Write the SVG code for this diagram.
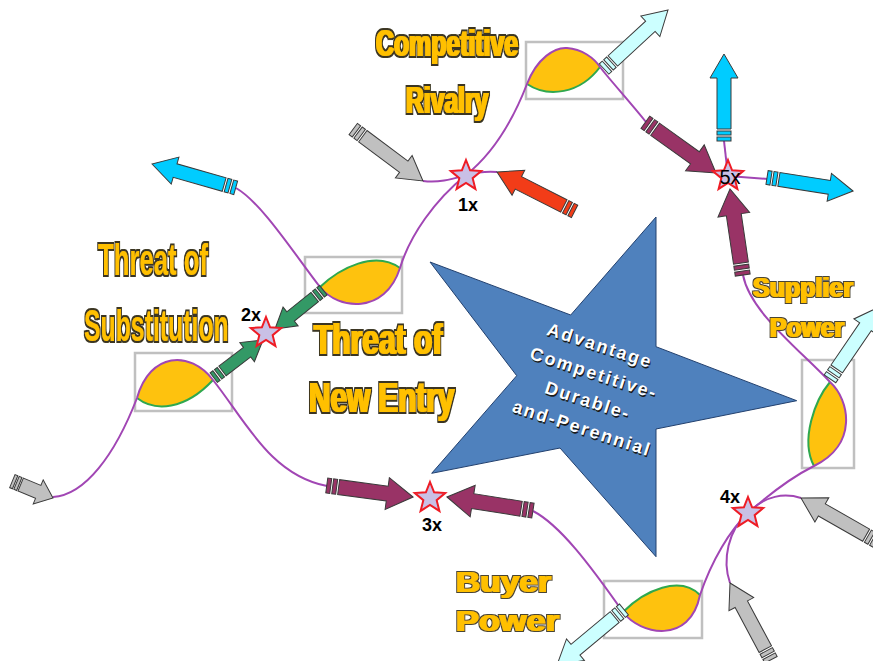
<svg xmlns="http://www.w3.org/2000/svg" width="873" height="661" viewBox="0 0 873 661">
<style>
.wire{fill:none;stroke:#a146b4;stroke-width:2}
.gedge{fill:none;stroke:#2fa84f;stroke-width:2}
.lens{fill:#fec20e;stroke:none}
.box{fill:none;stroke:#c0c0c0;stroke-width:2.5}
.arr{stroke:#3a3a3a;stroke-width:1}
.grey{fill:#c0c0c0}
.red{fill:#f23c18}
.maroon{fill:#993366}
.cyan{fill:#00ccff}
.lcyan{fill:#ccffff}
.green{fill:#339966}
.jstar{fill:#c9c0e6;stroke:#ee1c25;stroke-width:2}
.jl{font-family:"Liberation Sans",Arial,sans-serif;font-weight:bold;font-size:18px;fill:#000;text-anchor:middle}
.gold{font-family:"Liberation Sans",Arial,sans-serif;font-weight:bold;fill:#ffc000;filter:url(#heavyN)}
.goldw{font-family:"Liberation Sans",Arial,sans-serif;font-weight:bold;fill:#ffc000;filter:url(#heavyW)}
.core{fill:#4f81bd;stroke:#22406e;stroke-width:1}
.ctext{font-family:"Liberation Sans",Arial,sans-serif;font-weight:bold;font-size:18px;letter-spacing:2px;text-anchor:middle}
</style>
<defs>
<filter id="heavyN" x="-10%" y="-20%" width="120%" height="140%">
<feMorphology in="SourceAlpha" operator="dilate" radius="2.5 1.5" result="outer"/>
<feFlood flood-color="#3a3520"/><feComposite in2="outer" operator="in" result="ring"/>
<feMorphology in="SourceAlpha" operator="dilate" radius="0.8 0.3" result="inner"/>
<feFlood flood-color="#ffc000"/><feComposite in2="inner" operator="in" result="gold"/>
<feMerge><feMergeNode in="ring"/><feMergeNode in="gold"/></feMerge>
</filter>
<filter id="heavyW" x="-10%" y="-20%" width="120%" height="140%">
<feMorphology in="SourceAlpha" operator="dilate" radius="1.5 1.3" result="outer"/>
<feFlood flood-color="#4a4430"/><feComposite in2="outer" operator="in" result="ring"/>
<feMorphology in="SourceAlpha" operator="dilate" radius="0.5 0.3" result="inner"/>
<feFlood flood-color="#ffc000"/><feComposite in2="inner" operator="in" result="gold"/>
<feMerge><feMergeNode in="ring"/><feMergeNode in="gold"/></feMerge>
</filter>
<g id="aA"><path d="M0,0 L-24,-14 L-24,-7 L-75,-7 L-75,7 L-24,7 L-24,14 Z"/><rect x="-81" y="-7" width="4" height="14"/><rect x="-87" y="-7" width="4" height="14"/></g>
<g id="aM"><path d="M0,0 L-26,-16 L-26,-7.5 L-75,-7.5 L-75,7.5 L-26,7.5 L-26,16 Z"/><rect x="-81" y="-7.5" width="4" height="15"/><rect x="-87" y="-7.5" width="4" height="15"/></g>
<g id="aG"><path d="M0,0 L-20,-12 L-20,-6 L-51,-6 L-51,6 L-20,6 L-20,12 Z"/><rect x="-56.5" y="-6" width="3.5" height="12"/><rect x="-62" y="-6" width="3.5" height="12"/></g>
<g id="aS"><path d="M0,0 L-16,-13 L-16,-7 L-35,-7 L-35,7 L-16,7 L-16,13 Z"/><rect x="-39.5" y="-7" width="3" height="14"/><rect x="-44" y="-7" width="3" height="14"/></g>
<path id="js" d="M0,-16 L4.11,-5.66 L15.22,-4.94 L6.66,2.16 L9.4,12.94 L0,7 L-9.4,12.94 L-6.66,2.16 L-15.22,-4.94 L-4.11,-5.66 Z"/>
</defs>

<g id="core-advantage">
<polygon class="core" points="656,217 570.7,315 430,262 516.7,375.7 431.7,473.3 560,448 656,556.7 656,429 796.7,400.7 656,346.7"/>
<g transform="rotate(18 591 387)">
<g fill="#1a1a1a" transform="translate(1.2,1.4)">
<text class="ctext" x="586.8" y="351">Advantage</text>
<text class="ctext" x="589.6" y="379">Competitive-</text>
<text class="ctext" x="592.4" y="407">Durable-</text>
<text class="ctext" x="595.2" y="435">and-Perennial</text>
</g>
<g fill="#ffffff">
<text class="ctext" x="586.8" y="351">Advantage</text>
<text class="ctext" x="589.6" y="379">Competitive-</text>
<text class="ctext" x="592.4" y="407">Durable-</text>
<text class="ctext" x="595.2" y="435">and-Perennial</text>
</g>
</g>
</g>

<g id="node-competitive-rivalry">
<path class="lens" d="M527,84 C537,58 555,47 567,48 C582,49 594,58 600,67 C580,94 548,98 527,84 Z"/>
<path class="gedge" d="M527,84 C548,98 580,94 600,67"/>
<rect class="box" x="526" y="42" width="97" height="57"/>
</g>
<g id="node-threat-new-entry">
<path class="lens" d="M320,287 C338,310 385,315 400,268 C375,250 340,268 320,287 Z"/>
<path class="gedge" d="M320,287 C340,268 375,250 400,268"/>
<rect class="box" x="305" y="257" width="97" height="56"/>
</g>
<g id="node-threat-substitution">
<path class="lens" d="M137,398 C150,352 190,350 213,380 C185,410 155,412 137,398 Z"/>
<path class="gedge" d="M137,398 C155,412 185,410 213,380"/>
<rect class="box" x="135" y="353" width="97" height="58"/>
</g>
<g id="node-supplier-power">
<path class="lens" d="M814,466 C858,445 850,400 830,382 C815,400 800,440 814,466 Z"/>
<path class="gedge" d="M830,382 C815,400 800,440 814,466"/>
<rect class="box" x="802" y="360" width="52" height="108"/>
</g>
<g id="node-buyer-power">
<path class="lens" d="M623,612 C640,635 690,645 700,595 C680,575 645,590 623,612 Z"/>
<path class="gedge" d="M623,612 C645,590 680,575 700,595"/>
<rect class="box" x="604" y="581" width="98" height="57"/>
</g>

<g id="connectors">
<path class="wire" d="M236,188 C262,203 295,255 320,287 C338,310 385,315 400,268 C410,235 435,200 466,175 C495,152 515,115 527,84 C537,58 555,47 567,48 C582,49 594,58 600,67 C610,80 630,102 646,122"/>
<path class="wire" d="M423,181 C440,183 452,179 466,175 C478,172 486,171 497,172"/>
<path class="wire" d="M53,497 C85,495 115,455 137,398 C150,352 190,350 213,380 C245,420 270,475 327,486"/>
<path class="wire" d="M533,511 C560,525 590,565 623,612 C640,635 690,645 700,595 C712,560 730,530 748,513 C765,498 790,478 814,466 C858,445 850,400 830,382 C800,350 750,312 743,275"/>
<path class="wire" d="M801,498 C785,493 765,495 748,513"/>
<path class="wire" d="M730,583 C722,560 728,530 748,513"/>
<path class="wire" d="M724,141 L728,176"/>
<path class="wire" d="M728,176 L768,179"/>

<use href="#aA" class="arr grey" transform="translate(423,181) rotate(36.7)"/>
<use href="#aA" class="arr red" transform="translate(497,172) rotate(206.9)"/>
<use href="#aM" class="arr maroon" transform="translate(716,173) rotate(35.7)"/>
<use href="#aA" class="arr cyan" transform="translate(724,54) rotate(-90)"/>
<use href="#aA" class="arr cyan" transform="translate(853,191) rotate(8.9)"/>
<use href="#aM" class="arr maroon" transform="translate(730,189) rotate(-98.4)"/>
<use href="#aA" class="arr lcyan" transform="translate(668,10) rotate(-42.7)"/>
<use href="#aA" class="arr lcyan" transform="translate(879,307) rotate(-55.7)"/>
<use href="#aA" class="arr lcyan" transform="translate(557,665) rotate(140.3)"/>
<use href="#aA" class="arr cyan" transform="translate(152,164) rotate(195.9)"/>
<use href="#aS" class="arr grey" transform="translate(53,498) rotate(22.5)"/>
<use href="#aM" class="arr maroon" transform="translate(413,497) rotate(7.6)"/>
<use href="#aM" class="arr maroon" transform="translate(447,497) rotate(189)"/>
<use href="#aA" class="arr grey" transform="translate(801,498) rotate(209.7)"/>
<use href="#aA" class="arr grey" transform="translate(730,583) rotate(241.9)"/>
<use href="#aG" class="arr green" transform="translate(263,340) rotate(-37.4)"/>
<use href="#aG" class="arr green" transform="translate(275,329) rotate(141.2)"/>
</g>

<g id="junction-1x"><use href="#js" class="jstar" x="466" y="176"/><text class="jl" x="468" y="211">1x</text></g>
<g id="junction-2x"><use href="#js" class="jstar" x="266" y="333"/><text class="jl" x="251" y="321">2x</text></g>
<g id="junction-3x"><use href="#js" class="jstar" x="430" y="498"/><text class="jl" x="432" y="531">3x</text></g>
<g id="junction-4x"><use href="#js" class="jstar" x="748" y="513"/><text class="jl" x="730" y="503">4x</text></g>
<g id="junction-5x"><use href="#js" class="jstar" x="728" y="176"/><text x="730" y="184" font-family="Liberation Sans, Arial, sans-serif" font-size="20" text-anchor="middle" fill="#000">5x</text></g>

<g id="labels">
<text class="gold" transform="translate(376,56) scale(0.68,1)" font-size="37" textLength="209" lengthAdjust="spacingAndGlyphs">Competitive</text>
<text class="gold" transform="translate(406,113) scale(0.68,1)" font-size="37" textLength="121" lengthAdjust="spacingAndGlyphs">Rivalry</text>
<text class="gold" transform="translate(98,275) scale(0.595,1)" font-size="44" textLength="185" lengthAdjust="spacingAndGlyphs">Threat of</text>
<text class="gold" transform="translate(84,341) scale(0.536,1)" font-size="44" textLength="270" lengthAdjust="spacingAndGlyphs">Substitution</text>
<text class="gold" transform="translate(314,354) scale(0.72,1)" font-size="42" textLength="178" lengthAdjust="spacingAndGlyphs">Threat of</text>
<text class="gold" transform="translate(309,412) scale(0.716,1)" font-size="42" textLength="203" lengthAdjust="spacingAndGlyphs">New Entry</text>
<text class="goldw" x="753" y="297" font-size="28" textLength="100" lengthAdjust="spacingAndGlyphs">Supplier</text>
<text class="goldw" x="770" y="337" font-size="28" textLength="74" lengthAdjust="spacingAndGlyphs">Power</text>
<text class="goldw" x="456" y="592" font-size="29" textLength="95" lengthAdjust="spacingAndGlyphs">Buyer</text>
<text class="goldw" x="456" y="631" font-size="29" textLength="103" lengthAdjust="spacingAndGlyphs">Power</text>
</g>
</svg>
